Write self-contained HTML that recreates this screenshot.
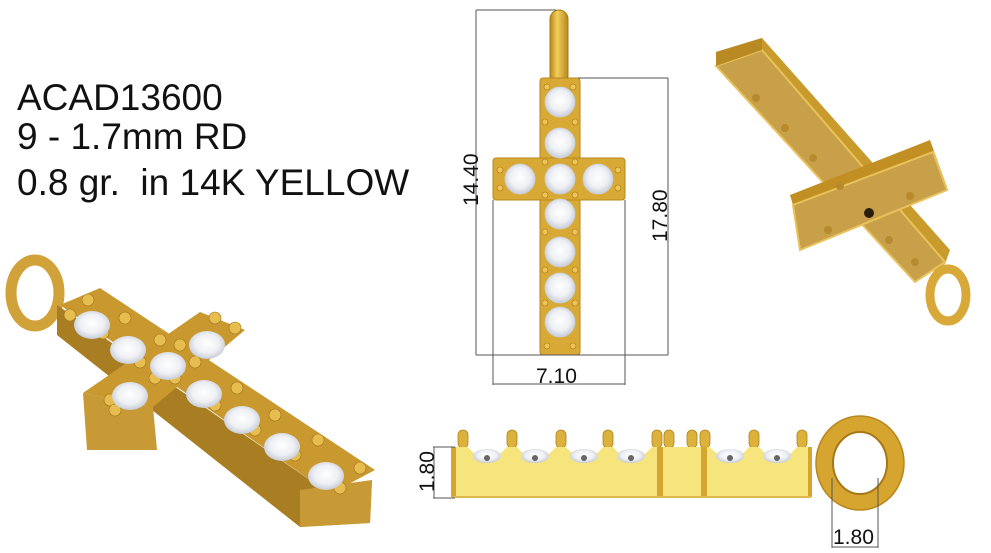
<!DOCTYPE html>
<html><head><meta charset="utf-8"><style>
html,body{margin:0;padding:0;background:#fff;}
svg{display:block;}
text{font-family:"Liberation Sans",sans-serif;white-space:pre;}
</style></head><body>
<svg width="991" height="553" viewBox="0 0 991 553" xmlns="http://www.w3.org/2000/svg">
<defs>
<radialGradient id="dia" cx="50%" cy="45%" r="55%"><stop offset="0" stop-color="#ffffff"/><stop offset="0.6" stop-color="#eef0f4"/><stop offset="1" stop-color="#c7ccd6"/></radialGradient>
<linearGradient id="goldV" x1="0" y1="0" x2="1" y2="0"><stop offset="0" stop-color="#b8871c"/><stop offset="0.4" stop-color="#f3cf5a"/><stop offset="1" stop-color="#b8871c"/></linearGradient>
</defs>
<rect width="991" height="553" fill="#fff"/>

<text x="17" y="110" font-size="37" fill="#111">ACAD13600</text>
<text x="17" y="149" font-size="37" fill="#111">9 - 1.7mm RD</text>
<text x="17" y="195" font-size="37" fill="#111" xml:space="preserve">0.8 gr.  in 14K YELLOW</text>

<!-- center cross -->
<rect x="550" y="10" width="18" height="75" rx="9" fill="url(#goldV)" stroke="#a87a10" stroke-width="1"/>
<rect x="540" y="78" width="40" height="277" rx="3" fill="#d9a935" stroke="#b8871c"/>
<rect x="493" y="158" width="132" height="42" rx="3" fill="#d9a935" stroke="#b8871c"/>
<g fill="#edc45a" stroke="#a87a10" stroke-width="0.6">
<circle cx="547" cy="87" r="3"/><circle cx="573" cy="87" r="3"/>
<circle cx="545" cy="122" r="3"/><circle cx="575" cy="122" r="3"/>
<circle cx="545" cy="162" r="3"/><circle cx="575" cy="162" r="3"/>
<circle cx="545" cy="195" r="3"/><circle cx="575" cy="195" r="3"/>
<circle cx="545" cy="232" r="3"/><circle cx="575" cy="232" r="3"/>
<circle cx="545" cy="270" r="3"/><circle cx="575" cy="270" r="3"/>
<circle cx="545" cy="303" r="3"/><circle cx="575" cy="303" r="3"/>
<circle cx="547" cy="346" r="3"/><circle cx="573" cy="346" r="3"/>
<circle cx="500" cy="170" r="3"/><circle cx="500" cy="188" r="3"/>
<circle cx="618" cy="170" r="3"/><circle cx="618" cy="188" r="3"/>
</g>
<g fill="url(#dia)" stroke="#c9ced8" stroke-width="0.8">
<circle cx="560" cy="102" r="15"/><circle cx="560" cy="143" r="15"/>
<circle cx="560" cy="179" r="15"/><circle cx="520" cy="179" r="15"/><circle cx="598" cy="179" r="15"/>
<circle cx="560" cy="214" r="15"/><circle cx="560" cy="252" r="15"/>
<circle cx="560" cy="288" r="15"/><circle cx="560" cy="322" r="15"/>
</g>
<g stroke="#555" stroke-width="1" fill="none">
<line x1="476" y1="10" x2="556" y2="10"/><line x1="476" y1="10" x2="476" y2="355"/>
<line x1="476" y1="355" x2="668" y2="355"/>
<line x1="578" y1="78" x2="668" y2="78"/><line x1="668" y1="78" x2="668" y2="355"/>
<line x1="493" y1="200" x2="493" y2="385"/><line x1="625" y1="200" x2="625" y2="385"/>
<line x1="493" y1="384" x2="625" y2="384"/>
</g>
<text x="0" y="0" font-size="21" fill="#111" transform="translate(478,206) rotate(-90)">14.40</text>
<text x="0" y="0" font-size="21" fill="#111" transform="translate(667,242) rotate(-90)">17.80</text>
<text x="536" y="383" font-size="21" fill="#111">7.10</text>

<!-- right perspective cross -->
<polygon points="716,52 762,38 950,250 945,264 915,282 716,66" fill="#c99a2c"/>
<polygon points="716,66 762,50 945,262 915,282" fill="#c9a04a" stroke="#e8c25a" stroke-width="2"/>
<polygon points="716,52 762,38 762,50 716,66" fill="#b98a24"/>
<polygon points="790,195 930,140 947,187 800,250 793,205" fill="#c28f22"/>
<polygon points="793,205 933,152 947,190 800,250" fill="#c9a04a" stroke="#e8c25a" stroke-width="2"/>
<g fill="#b88a2e"><circle cx="756" cy="98" r="4"/><circle cx="785" cy="128" r="4"/><circle cx="813" cy="158" r="4"/><circle cx="840" cy="186" r="4"/><circle cx="910" cy="196" r="4"/><circle cx="828" cy="230" r="4"/><circle cx="889" cy="240" r="4"/><circle cx="915" cy="262" r="4"/></g>
<circle cx="869" cy="213" r="5" fill="#2a1d08"/>
<ellipse cx="948" cy="295" rx="18" ry="26" fill="none" stroke="#d8a838" stroke-width="9"/>

<!-- left perspective cross -->
<ellipse cx="35" cy="293" rx="24" ry="33" fill="none" stroke="#d2a23a" stroke-width="11"/>
<polygon points="57,305 330,494 372,480 370,523 300,527 57,335" fill="#a97d22"/>
<polygon points="300,490 372,480 370,523 300,527" fill="#c89a35"/>
<polygon points="60,305 100,288 375,470 330,494" fill="#c9992f"/>
<polygon points="83,393 153,407 157,450 87,450" fill="#c89a35"/>
<polygon points="83,393 200,312 245,330 153,407" fill="#c9992f"/>
<g fill="#e8bd50" stroke="#9c7118" stroke-width="0.6">
<circle cx="70" cy="315" r="6"/><circle cx="88" cy="300" r="6"/><circle cx="125" cy="318" r="6"/><circle cx="103" cy="333" r="6"/>
<circle cx="160" cy="340" r="6"/><circle cx="180" cy="345" r="6"/><circle cx="140" cy="362" r="6"/><circle cx="195" cy="362" r="6"/>
<circle cx="215" cy="318" r="6"/><circle cx="235" cy="328" r="6"/><circle cx="110" cy="400" r="6"/><circle cx="115" cy="410" r="6"/>
<circle cx="155" cy="378" r="6"/><circle cx="175" cy="378" r="6"/><circle cx="215" cy="405" r="6"/><circle cx="237" cy="388" r="6"/>
<circle cx="255" cy="430" r="6"/><circle cx="275" cy="415" r="6"/><circle cx="295" cy="455" r="6"/><circle cx="318" cy="440" r="6"/>
<circle cx="340" cy="488" r="6"/><circle cx="360" cy="468" r="6"/>
</g>
<g fill="url(#dia)">
<ellipse cx="92" cy="325" rx="18" ry="14"/><ellipse cx="128" cy="350" rx="18" ry="14"/><ellipse cx="207" cy="345" rx="18" ry="14"/>
<ellipse cx="168" cy="366" rx="18" ry="14"/><ellipse cx="130" cy="396" rx="18" ry="14"/><ellipse cx="204" cy="394" rx="18" ry="14"/>
<ellipse cx="242" cy="420" rx="18" ry="14"/><ellipse cx="282" cy="447" rx="18" ry="14"/><ellipse cx="326" cy="476" rx="18" ry="14"/>
</g>

<!-- side view -->
<g fill="#dcb13c" stroke="#b0841c" stroke-width="0.8">
<rect x="458" y="430" width="10" height="18" rx="5"/><rect x="507" y="430" width="10" height="18" rx="5"/>
<rect x="556" y="430" width="10" height="18" rx="5"/><rect x="603" y="430" width="10" height="18" rx="5"/>
<rect x="652" y="430" width="10" height="18" rx="5"/><rect x="664" y="430" width="10" height="18" rx="5"/>
<rect x="687" y="430" width="10" height="18" rx="5"/><rect x="700" y="430" width="10" height="18" rx="5"/>
<rect x="749" y="430" width="10" height="18" rx="5"/><rect x="797" y="430" width="10" height="18" rx="5"/>
</g>
<path d="M452,447 L468,447 Q487,470 507,447 L517,447 Q536,470 556,447 L566,447 Q585,470 603,447 L613,447 Q632,470 652,447 L660,447 L660,497 L452,497 Z" fill="#f6e57c"/>
<rect x="660" y="447" width="44" height="50" fill="#f6e57c"/>
<path d="M704,447 L710,447 Q730,470 749,447 L759,447 Q778,470 797,447 L811,447 L811,497 L704,497 Z" fill="#f6e57c"/>
<g fill="url(#dia)"><ellipse cx="487" cy="456" rx="14" ry="7"/><ellipse cx="535" cy="456" rx="14" ry="7"/><ellipse cx="584" cy="456" rx="14" ry="7"/><ellipse cx="631" cy="456" rx="14" ry="7"/><ellipse cx="730" cy="456" rx="14" ry="7"/><ellipse cx="777" cy="456" rx="14" ry="7"/></g>
<g fill="#666"><circle cx="487" cy="458" r="3"/><circle cx="535" cy="458" r="3"/><circle cx="584" cy="458" r="3"/><circle cx="631" cy="458" r="3"/><circle cx="730" cy="458" r="3"/><circle cx="777" cy="458" r="3"/></g>
<g fill="#d6a530"><rect x="451" y="447" width="5" height="50"/><rect x="657" y="447" width="6" height="50"/><rect x="701" y="447" width="6" height="50"/><rect x="808" y="447" width="4" height="50"/></g>
<line x1="452" y1="497" x2="811" y2="497" stroke="#e0b850" stroke-width="2"/>
<ellipse cx="860" cy="463" rx="36" ry="39" fill="none" stroke="#d6a530" stroke-width="17"/>
<ellipse cx="860" cy="463" rx="44" ry="47" fill="none" stroke="#b8861c" stroke-width="1.5"/>
<ellipse cx="860" cy="463" rx="27" ry="31" fill="none" stroke="#a67818" stroke-width="2"/>
<g stroke="#555" stroke-width="1">
<line x1="433" y1="447" x2="455" y2="447"/><line x1="433" y1="498" x2="455" y2="498"/><line x1="434" y1="447" x2="434" y2="498"/>
<line x1="832" y1="478" x2="832" y2="548"/><line x1="878" y1="478" x2="878" y2="548"/><line x1="832" y1="547" x2="878" y2="547"/>
</g>
<text x="0" y="0" font-size="21" fill="#111" transform="translate(434,492) rotate(-90)">1.80</text>
<text x="833" y="544" font-size="21" fill="#111">1.80</text>
</svg>
</body></html>
